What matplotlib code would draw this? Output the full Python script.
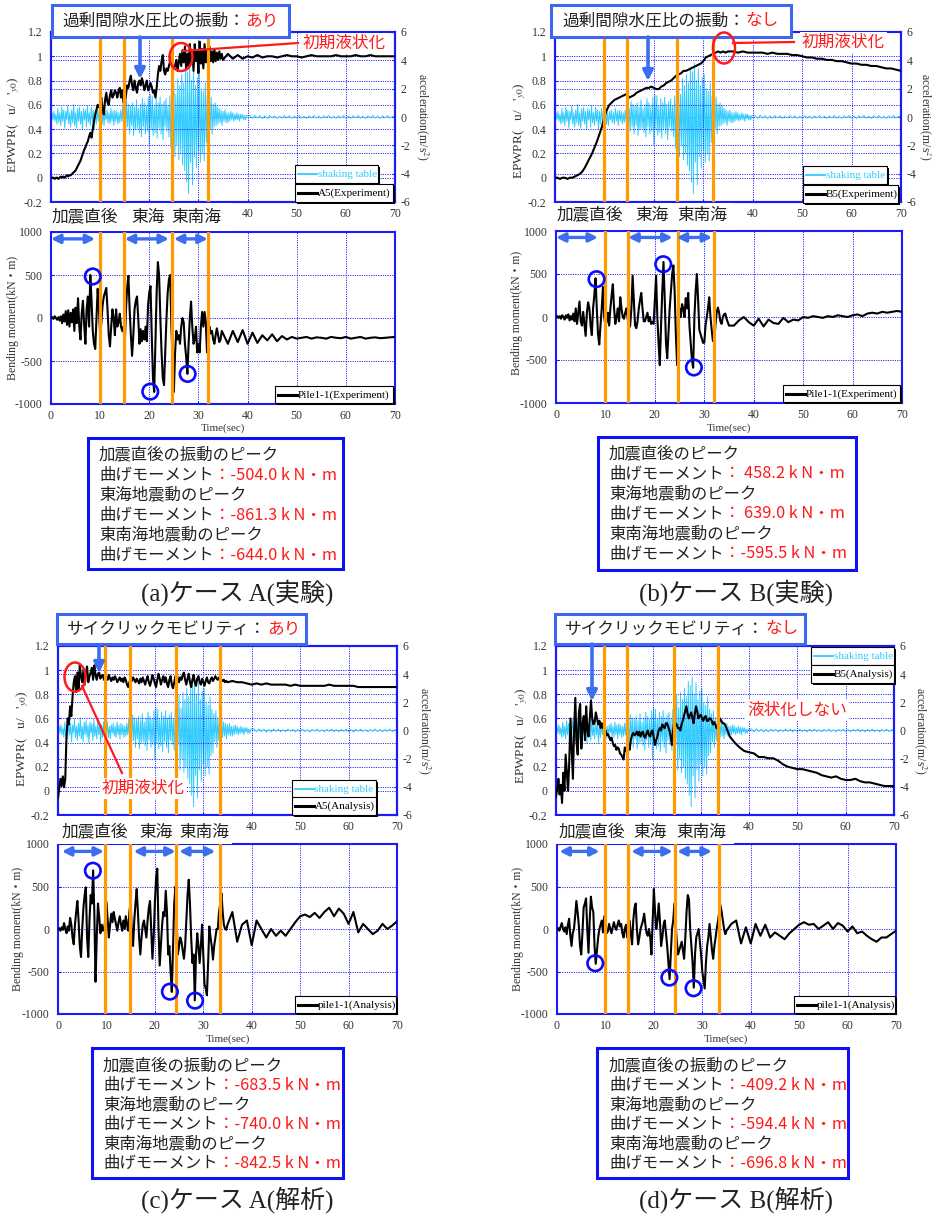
import numpy as np
import matplotlib
matplotlib.use("Agg")
import matplotlib.pyplot as plt
import matplotlib.transforms as mtransforms
from matplotlib.patches import Rectangle, Ellipse, FancyArrowPatch
from matplotlib.lines import Line2D

plt.rcParams['font.family'] = ['Liberation Serif', 'Noto Sans CJK JP']
plt.rcParams['mathtext.fontset'] = 'stix'

# ------------------------------------------------------------------ data
time_ticks = [0, 10, 20, 30, 40, 50, 60, 70]
time_tick_labels = ['0', '10', '20', '30', '40', '50', '60', '70']
time_tick_labels_top = ['', '', '', '', '40', '50', '60', '70']   # 0-30 hidden under event labels
epwpr_ticks = [-0.2, 0, 0.2, 0.4, 0.6, 0.8, 1.0, 1.2]
epwpr_tick_labels = ['-0.2', '0', '0.2', '0.4', '0.6', '0.8', '1', '1.2']
acc_ticks = [-6, -4, -2, 0, 2, 4, 6]
acc_tick_labels = ['-6', '-4', '-2', '0', '2', '4', '6']
moment_ticks = [-1000, -500, 0, 500, 1000]
moment_tick_labels = ['-1000', '-500', '0', '500', '1000']
event_labels = ['加震直後', '東海', '東南海']

# shaking table acceleration (m/s2): 0-40 s every 0.2 s, then 40.5-70 s every 0.5 s
shaking_table_acc_dense = [
    0.0, 0.3, -0.2, 0.4, -0.3, 0.2, -0.5, 0.6, -0.4, 0.3,
    -0.6, 0.7, -0.3, 0.5, -0.8, 0.4, -0.2, 0.8, -0.5, 0.3,
    -0.7, 0.5, -0.4, 0.9, -0.6, 0.3, -0.8, 0.6, -0.3, 0.7,
    -0.5, 0.4, -0.9, 0.6, -0.2, 0.5, -0.7, 0.8, -0.4, 0.3,
    -0.6, 0.7, -0.3, 0.5, -0.9, 0.4, -0.5, 0.6, -0.3, 0.5,
    -0.4, 0.6, -0.5, 0.3, -0.6, 0.4, -0.2, 0.5, -0.4, 0.3,
    -0.5, 0.6, -0.3, 0.4, -0.6, 0.5, -0.3, 0.4, -0.5, 0.3,
    -0.4, 0.5, -0.3, 0.8, -0.9, 0.6, -1.0, 1.1, -0.7, 0.9,
    -1.2, 0.8, -0.6, 1.0, -1.3, 0.7, -0.9, 1.2, -0.8, 0.6,
    -1.1, 0.9, -1.4, 1.3, -0.7, 1.0, -1.2, 0.8, -1.0, 1.4,
    -2.0, 1.6, -0.9, 1.5, -1.3, 0.8, -1.1, 1.3, -1.5, 1.0,
    -0.8, 1.4, -1.2, 0.9, -1.6, 1.1, -0.7, 1.3, -1.0, 0.8,
    -1.4, 1.5, -2.2, 1.8, -1.0, 2.5, -2.8, 1.6, -2.0, 2.7,
    -3.0, 2.2, -2.6, 3.0, -3.4, 2.4, -3.8, 3.5, -4.6, 3.2,
    -5.4, 3.8, -3.2, 2.6, -4.8, 3.4, -2.8, 2.2, -3.6, 2.8,
    -2.4, 3.0, -3.2, 2.0, -2.6, 1.8, -3.1, 2.4, -1.8, 1.5,
    -1.6, 1.2, -0.8, 1.4, -1.2, 0.9, -0.7, 1.0, -0.6, 0.8,
    -0.5, 0.6, -0.4, 0.5, -0.6, 0.4, -0.3, 0.5, -0.4, 0.3,
    -0.4, 0.3, -0.3, 0.4, -0.2, 0.3, -0.3, 0.2, -0.2, 0.3,
    -0.2, 0.2, -0.3, 0.2, -0.1, 0.2, -0.2, 0.1, -0.2, 0.1,
    0.1]
shaking_table_acc_tail = [
    0.10, -0.10, 0.12, -0.08, 0.10, -0.12, 0.08, -0.10, 0.10, -0.06,
    0.08, -0.10, 0.06, -0.08, 0.10, -0.06, 0.08, -0.10, 0.06, -0.08,
    0.10, -0.08, 0.06, -0.10, 0.08, -0.06, 0.10, -0.08, 0.06, -0.10,
    0.08, -0.06, 0.10, -0.08, 0.06, -0.10, 0.08, -0.06, 0.10, -0.08,
    0.06, -0.10, 0.08, -0.06, 0.10, -0.08, 0.06, -0.10, 0.08, -0.06,
    0.10, -0.08, 0.06, -0.10, 0.08, -0.06, 0.10, -0.08, 0.06, -0.04]

# EPWPR: 0-35 s every 0.25 s (case B experiment every 0.5 s), then 36-70 s every 1 s
epwpr_A_exp_dense = [
    0.0, 0.0, 0.0, -0.01, 0.0, 0.0, -0.01, 0.0,
    0.01, 0.0, 0.01, 0.0, 0.01, 0.02, 0.01, 0.02,
    0.02, 0.03, 0.04, 0.05, 0.06, 0.08, 0.10, 0.12,
    0.14, 0.17, 0.20, 0.23, 0.25, 0.28, 0.30, 0.34,
    0.37, 0.33, 0.40, 0.47, 0.52, 0.56, 0.60, 0.58,
    0.61, 0.66, 0.55, 0.52, 0.64, 0.70, 0.62, 0.60,
    0.68, 0.72, 0.66, 0.68, 0.72, 0.70, 0.66, 0.72,
    0.74, 0.66, 0.72, 0.62, 0.60, 0.68, 0.76, 0.74,
    0.80, 0.84, 0.76, 0.72, 0.80, 0.74, 0.70, 0.78,
    0.80, 0.76, 0.82, 0.78, 0.72, 0.76, 0.80, 0.72,
    0.74, 0.78, 0.75, 0.70, 0.72, 0.66, 0.74, 0.85,
    0.92, 0.88, 0.96, 1.01, 0.88, 0.85, 0.90, 0.88,
    0.92, 0.96, 1.00, 0.95, 0.90, 0.92, 0.97, 0.88,
    0.95, 1.02, 0.92, 1.05, 0.95, 1.08, 0.90, 1.02,
    0.92, 1.10, 0.95, 1.05, 0.88, 1.10, 0.96, 1.04,
    0.86, 1.12, 0.94, 1.06, 0.90, 1.10, 0.95, 1.05,
    0.92, 1.08, 0.96, 1.04, 0.95, 1.06, 0.96, 1.03,
    0.97, 1.04, 0.98, 1.02, 0.97]
epwpr_A_exp_tail = [
    1.02, 0.98, 1.01, 0.98, 1.00, 0.99, 1.01, 0.99, 1.00, 1.00,
    0.99, 1.00, 1.01, 1.00, 1.00, 0.99, 1.00, 1.01, 1.00, 1.00,
    1.00, 1.00, 1.01, 1.00, 1.00, 1.00, 1.01, 1.00, 1.00, 1.01,
    1.00, 1.00, 1.00, 1.00, 1.00]

epwpr_B_exp_dense = [
    0.0, 0.0, -0.01, 0.0, 0.0, -0.01, 0.0, 0.0, 0.01, 0.02,
    0.03, 0.05, 0.08, 0.12, 0.16, 0.20, 0.25, 0.30, 0.36, 0.42,
    0.50, 0.56, 0.60, 0.62, 0.64, 0.65, 0.66, 0.67, 0.68, 0.69,
    0.66, 0.67, 0.68, 0.70, 0.71, 0.72, 0.73, 0.74, 0.74, 0.75,
    0.74, 0.73, 0.73, 0.75, 0.76, 0.78, 0.79, 0.80, 0.82, 0.84,
    0.85, 0.86, 0.88, 0.88, 0.89, 0.90, 0.91, 0.92, 0.93, 0.94,
    0.96, 0.99, 1.00, 1.01, 1.02, 1.03, 1.04, 1.03, 1.04, 1.03,
    1.04]
epwpr_B_exp_tail = [
    1.04, 1.03, 1.04, 1.03, 1.03, 1.03, 1.03, 1.02, 1.03, 1.02,
    1.02, 1.02, 1.01, 1.01, 1.00, 0.99, 0.99, 0.98, 0.98, 0.97,
    0.97, 0.96, 0.96, 0.95, 0.94, 0.94, 0.93, 0.93, 0.92, 0.92,
    0.91, 0.90, 0.90, 0.89, 0.88]

epwpr_A_ana_dense = [
    -0.06, 0.02, 0.10, 0.04, 0.12, 0.03, 0.10, 0.45,
    0.60, 0.55, 0.70, 0.62, 0.78, 0.90, 0.95, 0.82,
    0.98, 0.84, 1.04, 0.95, 0.90, 1.00, 0.88, 0.98,
    1.03, 0.90, 0.95, 0.98, 1.02, 0.92, 1.04, 0.96,
    0.92, 0.97, 0.98, 0.93, 0.95, 0.96, 0.92, 0.95,
    0.94, 0.92, 0.96, 0.93, 0.91, 0.94, 0.92, 0.95,
    0.93, 0.90, 0.92, 0.94, 0.91, 0.93, 0.90, 0.94,
    0.92, 0.88, 0.86, 0.90, 0.93, 0.91, 0.94, 0.92,
    0.90, 0.93, 0.91, 0.89, 0.93, 0.90, 0.94, 0.91,
    0.88, 0.92, 0.95, 0.90, 0.87, 0.91, 0.96, 0.93,
    0.89, 0.86, 0.92, 0.97, 0.93, 0.88, 0.92, 0.95,
    0.90, 0.94, 0.89, 0.86, 0.92, 0.95, 0.88, 0.85,
    0.90, 0.95, 0.97, 0.93, 0.90, 0.94, 0.92, 0.96,
    0.98, 0.92, 0.88, 0.93, 0.97, 0.90, 0.86, 0.92,
    0.96, 0.90, 0.87, 0.93, 0.95, 0.90, 0.88, 0.93,
    0.90, 0.87, 0.91, 0.94, 0.90, 0.89, 0.92, 0.94,
    0.91, 0.93, 0.95, 0.93, 0.92, 0.94, 0.93, 0.92,
    0.91, 0.92, 0.90, 0.91, 0.90]
epwpr_A_ana_tail = [
    0.91, 0.90, 0.90, 0.89, 0.88, 0.89, 0.88, 0.89, 0.88, 0.88,
    0.88, 0.88, 0.87, 0.88, 0.87, 0.87, 0.87, 0.87, 0.87, 0.87,
    0.88, 0.87, 0.87, 0.87, 0.87, 0.87, 0.86, 0.86, 0.86, 0.86,
    0.86, 0.86, 0.86, 0.86, 0.86]

epwpr_B_ana_dense = [
    -0.05, 0.02, 0.10, -0.03, 0.05, -0.10, 0.15, 0.00,
    0.30, 0.15, 0.00, 0.25, 0.60, 0.35, 0.10, 0.50,
    0.77, 0.40, 0.30, 0.65, 0.72, 0.35, 0.55, 0.62,
    0.42, 0.70, 0.50, 0.45, 0.60, 0.75, 0.60, 0.55,
    0.57, 0.65, 0.60, 0.55, 0.58, 0.52, 0.56, 0.52,
    0.52, 0.50, 0.46, 0.47, 0.45, 0.42, 0.44, 0.40,
    0.37, 0.38, 0.34, 0.36, 0.35, 0.31, 0.30, 0.28,
    0.26, 0.36, 0.33, 0.36, 0.38, 0.34, 0.42, 0.46,
    0.48, 0.46, 0.47, 0.49, 0.46, 0.49, 0.45, 0.48,
    0.49, 0.45, 0.44, 0.48, 0.50, 0.46, 0.45, 0.49,
    0.50, 0.44, 0.38, 0.42, 0.45, 0.50, 0.52, 0.50,
    0.55, 0.53, 0.52, 0.56, 0.56, 0.53, 0.50, 0.45,
    0.38, 0.50, 0.58, 0.56, 0.55, 0.52, 0.52, 0.50,
    0.55, 0.58, 0.62, 0.66, 0.70, 0.64, 0.60, 0.63,
    0.65, 0.60, 0.56, 0.64, 0.70, 0.66, 0.60, 0.62,
    0.63, 0.60, 0.58, 0.61, 0.62, 0.58, 0.58, 0.60,
    0.60, 0.58, 0.55, 0.57, 0.55, 0.52, 0.52, 0.56,
    0.60, 0.58, 0.56, 0.56, 0.55]
epwpr_B_ana_tail = [
    0.45, 0.40, 0.36, 0.33, 0.32, 0.31, 0.28, 0.28, 0.27, 0.27,
    0.25, 0.22, 0.20, 0.19, 0.18, 0.18, 0.17, 0.16, 0.15, 0.13,
    0.12, 0.11, 0.12, 0.10, 0.09, 0.09, 0.10, 0.08, 0.07, 0.07,
    0.06, 0.05, 0.04, 0.04, 0.04]

# Bending moment (kN*m): 0-35 s every 0.25 s, then 36-70 s every 1 s
moment_A_exp_dense = [
    0, 10, -10, 20, 0, -20, 10, -30,
    20, -60, 40, -40, 80, -80, 90, -100,
    60, -50, 100, -150, 120, -60, 230, -100,
    -250, 50, 200, -80, -300, 100, 250, -100,
    500, 200, -150, -300, -360, 0, 340, 100,
    -200, -50, 150, 250, 300, 350, 100, -200,
    -330, -100, 100, 0, -200, 100, -100, -50,
    50, -100, -150, -100, -330, 100, 350, 490,
    100, -200, -440, -200, 100, 200, 250, 0,
    -300, -130, -270, -150, -250, -100, -270, 150,
    300, 370, -200, -700, -860, -300, 300, 650,
    500, 0, -400, -700, -780, -400, 0, 300,
    450, 500, -100, -500, -860, -400, -150, -250,
    -200, -300, -100, 0, -50, -300, -450, -650,
    -300, 0, 190, -100, -300, -250, -100, -400,
    -300, -400, -100, 70, -100, 70, -50, -400,
    -300, -100, -180, -150, -250, -300, -200, -120,
    -200, -280, -250, -150, -180]
moment_A_exp_tail = [
    -300, -150, -280, -140, -300, -170, -290, -200, -260, -190,
    -270, -210, -250, -220, -240, -230, -220, -240, -225, -230,
    -240, -220, -230, -235, -220, -240, -230, -220, -240, -230,
    -225, -235, -230, -225, -220]

moment_B_exp_dense = [
    0, 10, -10, 10, -20, 20, 0, -30,
    20, -10, 30, -40, 10, -30, 40, -50,
    100, -80, 50, 180, -50, -100, 60, -80,
    -220, 50, 170, 100, -100, -210, 100, 250,
    450, 100, -200, -320, -100, 100, 350, 0,
    -100, -50, 50, -100, 100, 250, 380, 100,
    -80, 0, 100, -50, 230, 100, 0, -20,
    50, 100, -20, -130, -100, 100, 480, 200,
    -100, -130, -50, 100, 200, 280, 100, -50,
    -50, 0, 50, -50, 0, -80, -60, -80,
    200, 480, 0, -300, -560, -100, 300, 640,
    200, -300, -480, -200, 100, 300, 500, 600,
    300, -200, -560, -200, 100, 0, 150, 100,
    0, 220, 100, 280, -100, -300, -500, -590,
    0, 300, 500, 200, -150, -200, -250, -300,
    -300, -100, 0, 100, 230, 0, -150, -280,
    -280, -100, 50, 110, 50, -50, -80, 0,
    30, 40, -20, -60, -100]
moment_B_exp_tail = [
    -100, -40, 0, -60, -100, -20, -110, -30, -70, -80,
    -10, -60, -30, -40, 0, -10, 10, 0, -10, 10,
    0, 20, 10, 0, 20, 30, 10, 40, 50, 40,
    60, 50, 60, 70, 60]

moment_A_ana_dense = [
    0, 10, -20, 20, -10, 70, 0, -50,
    30, -20, 130, 50, -100, -180, 50, 200,
    330, 100, -200, -330, 0, 250, 400, 490,
    -100, -330, 100, 400, 300, 690, 200, -620,
    -100, 300, 150, -50, 50, -20, 0, 100,
    320, 100, -100, 50, 180, 80, 200, 120,
    50, -20, 80, 150, 60, -20, 100, 0,
    150, 50, -20, 200, 330, -50, -200, 100,
    300, 470, 200, -100, -300, -100, 50, 100,
    0, -100, 100, 250, 330, 0, -350, -100,
    300, 600, 710, 0, -430, -200, 50, 200,
    150, 450, 200, -300, -200, -500, -740, -200,
    300, 500, 100, -300, -200, -100, -150, -250,
    -350, -200, 100, 400, 580, 300, -100, -400,
    -300, -840, -300, -50, -200, -400, -200, 50,
    -300, -650, -700, -780, -400, 30, -100, -200,
    -360, -200, -100, 0, 0, 200, 300, 420,
    200, 50, 0, -10, 50]
moment_A_ana_tail = [
    200, -150, 50, 100, -190, 100, 0, -100, 0, -80,
    -20, -80, 0, 80, 150, 170, 140, 190, 130, 200,
    250, 150, 240, 180, 60, 200, -40, 60, 0, -60,
    -20, 60, 0, 40, 90]

moment_B_ana_dense = [
    0, 10, -20, 30, 70, 0, -30, 20,
    -60, 50, 120, -80, -200, -50, 0, 150,
    330, 200, 50, -200, -300, -50, 250, 300,
    360, 0, -280, 100, 380, 250, 200, -200,
    -410, -250, -100, 0, 50, 100, -40, 150,
    50, -50, -30, 60, 0, -50, 20, 80,
    20, -10, 50, 100, 30, 60, -50, -100,
    0, 50, -100, 0, 100, -50, -180, 100,
    250, 300, 0, -180, -100, 0, 50, 100,
    180, 50, -50, -80, 0, -100, -300, 100,
    470, 200, 0, 100, 300, 100, -200, -100,
    50, 100, -50, -200, -400, -590, -300, 0,
    100, 300, 50, -150, -300, -250, -200, -150,
    -250, -350, -100, 200, 400, 350, 0, -200,
    -400, -690, -300, -100, -50, 0, -150, -300,
    -500, -600, -700, -400, -200, -100, 60, -100,
    -250, -350, -200, -100, 10, 100, 200, 280,
    200, 100, 0, -60, -20]
moment_B_ana_tail = [
    60, 100, -170, 20, -170, 60, -80, 50, -100, -40,
    -80, -120, -50, 0, 50, 80, 50, 60, 0, 40,
    80, 0, 70, 40, -30, 30, -50, -30, -80, -120,
    -150, -100, -100, -60, -20]

# event boundaries (orange lines, s) and peak markers
orange_A_exp = [9.9, 14.8, 24.7, 32.0]
orange_B_exp = [10.0, 14.6, 24.7, 32.0]
orange_A_ana = [9.8, 14.8, 24.4, 33.4]
orange_B_ana = [9.9, 14.7, 24.4, 33.5]
span_A_exp = [(0.0, 9.0), (15.0, 24.0), (25.0, 31.9)]
span_B_exp = [(0.0, 8.5), (14.6, 23.6), (24.4, 31.6)]
span_A_ana = [(0.8, 9.5), (15.6, 24.3), (25.0, 32.5)]
span_B_ana = [(0.5, 8.8), (15.3, 23.9), (24.8, 32.0)]
peaks_A_exp_t = [8.5, 20.2, 27.8]
peaks_A_exp_m = [483, -856, -650]
peaks_B_exp_t = [8.2, 21.7, 27.9]
peaks_B_exp_m = [440, 614, -587]
peaks_A_ana_t = [7.2, 23.1, 28.3]
peaks_A_ana_m = [686, -737, -843]
peaks_B_ana_t = [7.9, 23.2, 28.2]
peaks_B_ana_m = [-403, -572, -697]

info_A_exp = [("加震直後の振動のピーク", ""), ("曲げモーメント", "：-504.0 k N・m"),
              ("東海地震動のピーク", ""), ("曲げモーメント", "：-861.3 k N・m"),
              ("東南海地震動のピーク", ""), ("曲げモーメント", "：-644.0 k N・m")]
info_B_exp = [("加震直後のピーク", ""), ("曲げモーメント", "： 458.2 k N・m"),
              ("東海地震動のピーク", ""), ("曲げモーメント", "： 639.0 k N・m"),
              ("東南海地震動のピーク", ""), ("曲げモーメント", "：-595.5 k N・m")]
info_A_ana = [("加震直後の振動のピーク", ""), ("曲げモーメント", "：-683.5 k N・m"),
              ("東海地震動のピーク", ""), ("曲げモーメント", "：-740.0 k N・m"),
              ("東南海地震動のピーク", ""), ("曲げモーメント", "：-842.5 k N・m")]
info_B_ana = [("加震直後の振動のピーク", ""), ("曲げモーメント", "：-409.2 k N・m"),
              ("東海地震動のピーク", ""), ("曲げモーメント", "：-594.4 k N・m"),
              ("東南海地震動のピーク", ""), ("曲げモーメント", "：-696.8 k N・m")]

# ------------------------------------------------------------------ helpers
W, H = 932, 1217
fig = plt.figure(figsize=(W / 100, H / 100), dpi=100)
T = mtransforms.Affine2D().scale(1.0 / W, -1.0 / H).translate(0, 1) + fig.transFigure

SPINE = '#1a1aff'
GRID = '#2a2aff'
CYAN = '#33ccff'
ORANGE = '#ff9a00'
ARROW = '#3d6ef0'
TITLE_BLUE = '#3f66f2'
INFO_BLUE = '#1010f5'
JP = ['Noto Sans CJK JP']
SERIF_JP = ['Liberation Serif', 'Noto Sans CJK JP']


def timeline(dense, dt, tail, t0, dt2):
    return np.concatenate([np.arange(len(dense)) * dt, t0 + np.arange(len(tail)) * dt2])


t_acc = timeline(shaking_table_acc_dense, 0.2, shaking_table_acc_tail, 40.5, 0.5)
acc = np.array(shaking_table_acc_dense + shaking_table_acc_tail)


def add_axes_px(l, t, r, b):
    return fig.add_axes([l / W, 1 - b / H, (r - l) / W, (b - t) / H])


def style(ax, yticks, ylabels, ylim, xlabels):
    ax.set_xlim(0, 70)
    ax.set_ylim(*ylim)
    ax.set_xticks(time_ticks)
    ax.set_xticklabels(xlabels)
    ax.set_yticks(yticks)
    ax.set_yticklabels(ylabels)
    for s in ax.spines.values():
        s.set_color(SPINE)
        s.set_linewidth(1.5)
    ax.tick_params(axis='both', direction='in', length=2, width=0.8, color=SPINE,
                   labelsize=8.5, labelcolor='#333333')
    ax.tick_params(axis='x', pad=4)
    ax.tick_params(axis='y', pad=6)
    ax.grid(True, color=GRID, linestyle=(0, (1.2, 1.2)), linewidth=0.7)


def ftext(x, y, s, **kw):
    kw.setdefault('va', 'center')
    kw.setdefault('ha', 'left')
    return fig.text(x, y, s, transform=T, **kw)


def legend_box(x0, y0, x1, y1, color, lw, label, tcolor):
    fig.add_artist(Rectangle((x0 + 2, y0 + 2), x1 - x0, y1 - y0, transform=T,
                             facecolor='black', edgecolor='none', zorder=6))
    fig.add_artist(Rectangle((x0, y0), x1 - x0, y1 - y0, transform=T,
                             facecolor='white', edgecolor='black', lw=0.8, zorder=6.1))
    ym = (y0 + y1) / 2
    fig.add_artist(Line2D([x0 + 3, x0 + 22], [ym, ym], transform=T, color=color,
                          lw=lw, zorder=6.2))
    ftext(x0 + 22.5, ym + 0.5, label, fontsize=8, color=tcolor, zorder=6.3,
          family=['Liberation Serif'])


def title_box(x0, y0, x1, y1, tx, black, red):
    fig.add_artist(Rectangle((x0, y0), x1 - x0, y1 - y0, transform=T, facecolor='white',
                             edgecolor=TITLE_BLUE, lw=2.2, zorder=7))
    fs = 12
    ym = (y0 + y1) / 2
    ftext(tx, ym, black, fontsize=fs, family=JP, color='#222222', zorder=7.1)
    ftext(tx + len(black) * fs * 100 / 72, ym, red, fontsize=fs, family=JP,
          color='#ff1a1a', zorder=7.1)


def down_arrow(x, y0, y1):
    fig.add_artist(FancyArrowPatch((x, y0), (x, y1), transform=T, arrowstyle='-|>',
                                   mutation_scale=15, lw=2.6, color=ARROW, zorder=8,
                                   shrinkA=0, shrinkB=0))


def cover_and_events(x0, x1, ytop, ybot, centers, ycen):
    fig.add_artist(Rectangle((x0, ytop), x1 - x0, ybot - ytop, transform=T,
                             facecolor='white', edgecolor='none', zorder=5))
    for c, s in zip(centers, event_labels):
        ftext(c, ycen, s, ha='center', fontsize=12, family=JP, color='#222222', zorder=5.5)


def info_box(x0, y0, x1, y1, tx, ty0, dy, lines):
    fig.add_artist(Rectangle((x0, y0), x1 - x0, y1 - y0, transform=T, facecolor='white',
                             edgecolor=INFO_BLUE, lw=2.2, zorder=2))
    fs = 11.8
    for i, (black, red) in enumerate(lines):
        y = ty0 + i * dy
        ftext(tx, y, black, fontsize=fs, family=JP, color='#222222', zorder=3)
        if red:
            ftext(tx + len(black) * fs * 100 / 72, y, red, fontsize=fs, family=JP,
                  color='#ff1a1a', zorder=3)


def red_text(x, y, s):
    ftext(x, y, s, fontsize=12, family=JP, color='#ff1a1a', zorder=8,
          bbox=dict(facecolor='white', edgecolor='none', pad=1.5))


def top_panel(box, t_ep, ep, orange, leg, name, ylab_x, ylab_y, rlab_x):
    l, t, r, b = box
    ax = add_axes_px(l, t, r, b)
    ax2 = ax.twinx()
    ax.set_zorder(ax2.get_zorder() + 1)
    ax.patch.set_visible(False)
    ax2.plot(t_acc, acc, color=CYAN, lw=0.7)
    ax.plot(t_ep, ep, color='black', lw=1.5, zorder=3)
    for x in orange:
        ax.axvline(x, color=ORANGE, lw=2.3, zorder=5)
    style(ax, epwpr_ticks, epwpr_tick_labels, (-0.2, 1.2), time_tick_labels_top)
    ax2.set_ylim(-6, 6)
    ax2.set_yticks(acc_ticks)
    ax2.set_yticklabels(acc_tick_labels)
    for s in ax2.spines.values():
        s.set_color(SPINE)
        s.set_linewidth(1.5)
    ax2.tick_params(axis='y', direction='in', length=2, color=SPINE, labelsize=8.5,
                    labelcolor='#333333', pad=4)
    ax2.grid(True, axis='y', color=GRID, linestyle=(0, (1.2, 1.2)), linewidth=0.7)
    ftext(ylab_x, ylab_y, "EPWPR(   u/   '$_{y0}$)", rotation=90, ha='center',
          fontsize=9.5, color='#333333', family=['Liberation Serif'])
    ftext(rlab_x, (t + b) / 2, "acceleration(m/s$^{2}$)", rotation=270, ha='center',
          fontsize=8.5, color='#333333', family=['Liberation Serif'])
    (a0, a1, a2), (b0, b1, b2) = leg
    legend_box(a0, a1, a2, a1 + 18, CYAN, 1.3, 'shaking table', CYAN)
    legend_box(b0, b1, b2, b1 + 18, 'black', 2.2, name, 'black')
    return ax


def moment_panel(box, t_m, m, orange, spans, span_y, pk_t, pk_m, leg, name, ylab_x, ylab_y, tl_y):
    l, t, r, b = box
    ax = add_axes_px(l, t, r, b)
    ax.plot(t_m, m, color='black', lw=1.5, zorder=3)
    for x in orange:
        ax.axvline(x, color=ORANGE, lw=2.3, zorder=5)
    style(ax, moment_ticks, moment_tick_labels, (-1000, 1000), time_tick_labels)
    for s0, s1 in spans:
        ax.annotate('', xy=(s1, span_y), xytext=(s0, span_y), annotation_clip=False,
                    arrowprops=dict(arrowstyle='<|-|>', color=ARROW, lw=2.4,
                                    mutation_scale=13, shrinkA=0, shrinkB=0), zorder=6)
    ax.scatter(pk_t, pk_m, s=125, facecolors='none', edgecolors='#0a0aff',
               linewidths=1.9, zorder=7)
    ftext(ylab_x, ylab_y, "Bending moment(kN・m)", rotation=90, ha='center',
          fontsize=8.5, color='#333333', family=SERIF_JP)
    ftext((l + r) / 2, tl_y, "Time(sec)", ha='center', fontsize=8, color='#333333',
          family=['Liberation Serif'])
    x0, x1 = leg
    legend_box(x0, b - 18, x1, b - 1, 'black', 2.2, name, 'black')
    return ax


# ------------------------------------------------------------------ panel (a)
top_panel((51, 32, 395, 202),
          timeline(epwpr_A_exp_dense, 0.25, epwpr_A_exp_tail, 36, 1),
          epwpr_A_exp_dense + epwpr_A_exp_tail, orange_A_exp,
          ((295, 165, 378), (295, 184, 393)), 'A5(Experiment)', 14, 125, 422)
moment_panel((51, 232, 395, 404),
             timeline(moment_A_exp_dense, 0.25, moment_A_exp_tail, 36, 1),
             moment_A_exp_dense + moment_A_exp_tail, orange_A_exp, span_A_exp, 920,
             peaks_A_exp_t, peaks_A_exp_m, (275, 393), 'Pile1-1(Experiment)', 13, 318, 428)
cover_and_events(48, 232, 203, 231, [85, 147.5, 196.5], 217)
title_box(52, 5, 289, 37, 62, "過剰間隙水圧比の振動：", "あり")
down_arrow(140, 37, 79)
fig.add_artist(Ellipse((181, 57), 23, 28, transform=T, fill=False, edgecolor='#ff1a1a',
                       lw=1.8, zorder=8))
fig.add_artist(Line2D([183, 298], [51, 43], transform=T, color='#ff1a1a', lw=1.6, zorder=8))
red_text(303, 43, "初期液状化")
info_box(88, 438, 343, 569, 99, 455, 20, info_A_exp)
ftext(237, 593, "(a)ケース A(実験)", ha='center', fontsize=18, color='#222222', family=SERIF_JP)

# ------------------------------------------------------------------ panel (b)
top_panel((555, 32, 901, 202),
          timeline(epwpr_B_exp_dense, 0.5, epwpr_B_exp_tail, 36, 1),
          epwpr_B_exp_dense + epwpr_B_exp_tail, orange_B_exp,
          ((803, 166, 887), (803, 185, 898)), 'B5(Experiment)', 520, 131, 925)
moment_panel((556, 231, 902, 403),
             timeline(moment_B_exp_dense, 0.25, moment_B_exp_tail, 36, 1),
             moment_B_exp_dense + moment_B_exp_tail, orange_B_exp, span_B_exp, 925,
             peaks_B_exp_t, peaks_B_exp_m, (783, 900), 'Pile1-1(Experiment)', 517, 313, 428)
cover_and_events(551, 734, 203, 230, [590, 652, 702], 215)
title_box(551, 5, 791, 37, 562, "過剰間隙水圧比の振動：", "なし")
down_arrow(648, 37, 81)
fig.add_artist(Ellipse((724, 48), 22, 31, transform=T, fill=False, edgecolor='#ff1a1a',
                       lw=1.8, zorder=8))
fig.add_artist(Line2D([733, 794], [43, 42], transform=T, color='#ff1a1a', lw=1.6, zorder=8))
red_text(802, 42, "初期液状化")
info_box(598, 437, 856, 570, 609, 454, 20, info_B_exp)
ftext(736, 593, "(b)ケース B(実験)", ha='center', fontsize=18, color='#222222', family=SERIF_JP)

# ------------------------------------------------------------------ panel (c)
top_panel((58, 646, 397, 815),
          timeline(epwpr_A_ana_dense, 0.25, epwpr_A_ana_tail, 36, 1),
          epwpr_A_ana_dense + epwpr_A_ana_tail, orange_A_ana,
          ((292, 780, 376), (292, 797, 376)), 'A5(Analysis)', 23, 739, 424)
moment_panel((58, 844, 397, 1014),
             timeline(moment_A_ana_dense, 0.25, moment_A_ana_tail, 36, 1),
             moment_A_ana_dense + moment_A_ana_tail, orange_A_ana, span_A_ana, 913,
             peaks_A_ana_t, peaks_A_ana_m, (295, 396), 'pile1-1(Analysis)', 18, 929, 1039)
cover_and_events(55, 232, 816, 844, [95, 156, 204.5], 832)
title_box(57, 614, 306, 644, 67, "サイクリックモビリティ：", "あり")
down_arrow(99, 647, 673)
fig.add_artist(Ellipse((75, 677), 21, 29, transform=T, fill=False, edgecolor='#ff1a1a',
                       lw=1.8, zorder=8))
fig.add_artist(Line2D([82, 122], [686, 773], transform=T, color='#ff1a1a', lw=1.6, zorder=8))
red_text(102, 788, "初期液状化")
info_box(92, 1048, 343, 1178, 103, 1066, 19.5, info_A_ana)
ftext(237, 1200, "(c)ケース A(解析)", ha='center', fontsize=18, color='#222222', family=SERIF_JP)

# ------------------------------------------------------------------ panel (d)
top_panel((556, 646, 894, 815),
          timeline(epwpr_B_ana_dense, 0.25, epwpr_B_ana_tail, 36, 1),
          epwpr_B_ana_dense + epwpr_B_ana_tail, orange_B_ana,
          ((811, 647, 894), (811, 665, 894)), 'B5(Analysis)', 522, 736, 920)
moment_panel((557, 844, 896, 1014),
             timeline(moment_B_ana_dense, 0.25, moment_B_ana_tail, 36, 1),
             moment_B_ana_dense + moment_B_ana_tail, orange_B_ana, span_B_ana, 913,
             peaks_B_ana_t, peaks_B_ana_m, (794, 895), 'pile1-1(Analysis)', 518, 929, 1039)
cover_and_events(553, 734, 816, 844, [591.5, 649.5, 701], 832)
title_box(555, 614, 805, 644, 565, "サイクリックモビリティ：", "なし")
down_arrow(592, 644, 701)
red_text(747, 710, "液状化しない")
info_box(597, 1048, 848, 1178, 609, 1066, 19.5, info_B_ana)
ftext(736, 1200, "(d)ケース B(解析)", ha='center', fontsize=18, color='#222222', family=SERIF_JP)

fig.savefig("out.png", dpi=100)
